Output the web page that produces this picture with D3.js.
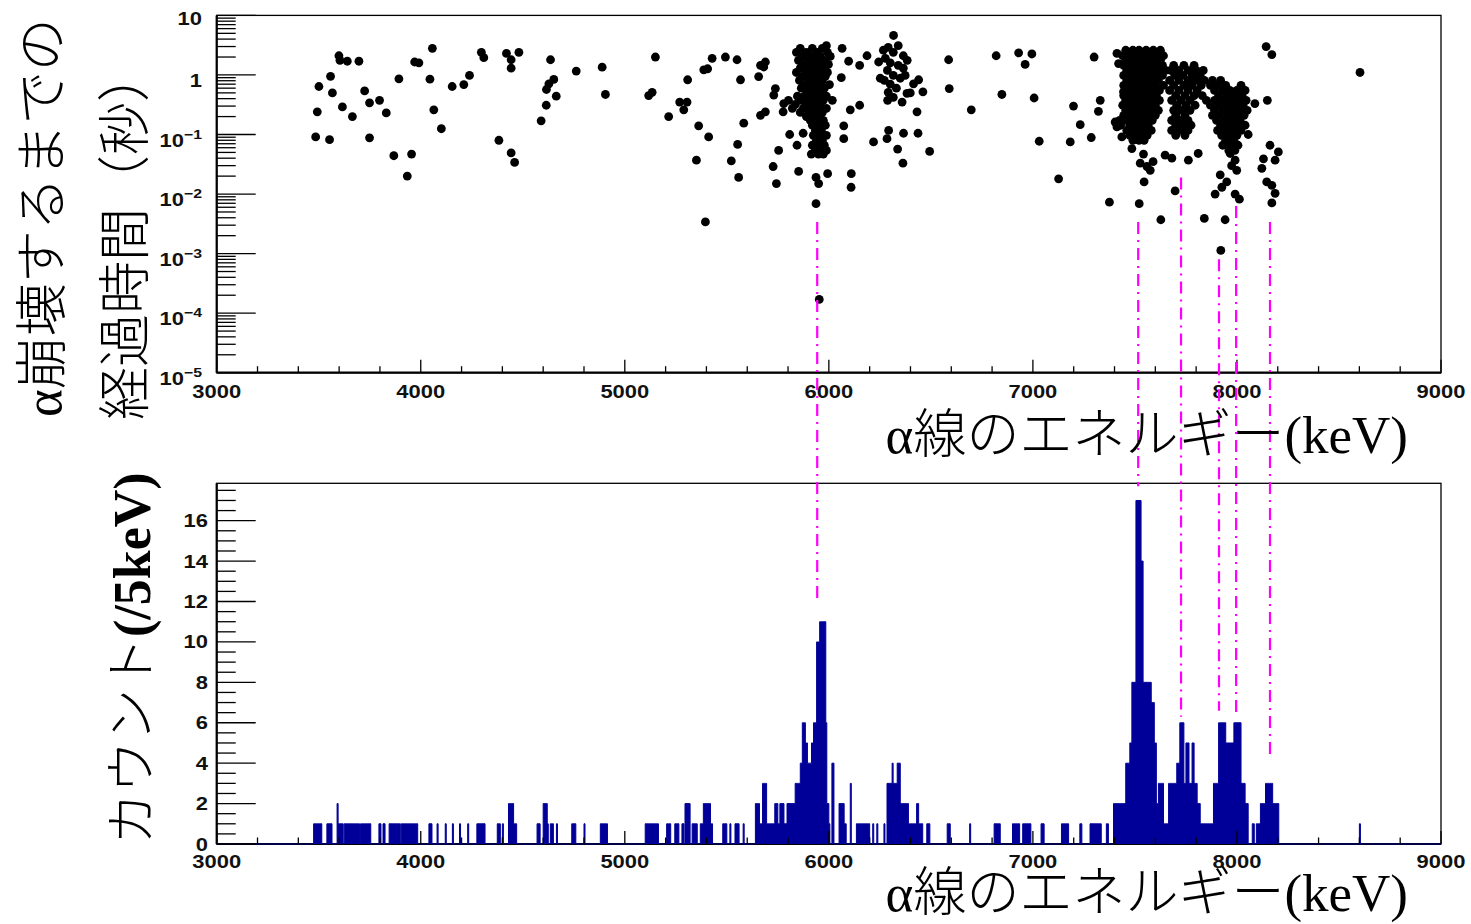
<!DOCTYPE html>
<html><head><meta charset="utf-8">
<script src="https://cdn.jsdelivr.net/npm/d3@7"></script>
<style>html,body{margin:0;padding:0;background:#fff;} svg{display:block}</style>
</head><body>
<svg id="chart" width="1471" height="924"></svg>
<script>
// ---------------- data ----------------
const xTickValues = [3000, 4000, 5000, 6000, 7000, 8000, 9000];
const timeTickPowers = [1, 0, -1, -2, -3, -4, -5];
const countTickValues = [0, 2, 4, 6, 8, 10, 12, 14, 16];

// isolated decay events: [alpha energy (keV), elapsed time (s)]
const scatterPoints = [
 [3599,2.1],[3604,1.76],[3640,1.7],[3697,1.7],[3558,0.95],[3501,0.64],[3567,0.5],[3493,0.24],[3616,0.29],[3665,0.2],
 [3725,0.54],[3749,0.34],[3798,0.375],[3831,0.23],[3485,0.091],[3553,0.082],[3749,0.088],[3868,0.044],[3955,0.047],[3934,0.02],
 [3893,0.86],[3970,1.65],[3991,1.6],[4057,2.8],[4045,0.85],[4064,0.26],[4101,0.125],[4154,0.64],[4211,0.69],[4239,0.98],
 [4297,2.4],[4309,1.95],[4420,2.3],[4443,1.8],[4481,2.4],[4443,1.3],[4383,0.08],[4443,0.049],[4460,0.034],[4636,1.8],
 [4652,0.84],[4628,0.71],[4616,0.57],[4664,0.44],[4615,0.31],[4590,0.17],[4762,1.16],[4889,1.35],[4905,0.47],
 [5150,2.0],[5117,0.45],[5134,0.51],[5215,0.2],[5269,0.35],[5305,0.35],[5289,0.26],[5308,0.83],[5387,1.22],[5406,1.27],
 [5428,1.9],[5493,2.0],[5550,1.8],[5362,0.14],[5411,0.091],[5351,0.037],[5395,0.0034],[5522,0.036],[5553,0.068],[5558,0.019],
 [5567,0.83],[5583,0.155],[5656,0.94],[5665,1.45],[5689,1.65],[5681,1.36],[5665,0.21],[5689,0.24],[5727,0.029],[5743,0.015],
 [5754,0.054],[5730,0.46],[5738,0.59],[5779,0.33],[5776,0.24],[5808,0.1],[5852,0.024],[5844,0.066],[5874,0.105],[5937,0.019],
 [5950,0.015],[5937,0.0069],[5953,0.00017],[5994,0.022],[5988,3.1],[6065,2.8],[6061,0.9],[6073,0.14],[6073,0.085],[6097,1.7],
 [6105,0.26],[6151,0.31],[6110,0.022],[6109,0.013],[6151,1.45],[6187,2.1],[6244,1.65],[6317,4.6],[6219,0.075],[6288,0.375],
 [6285,0.085],[6293,0.117],[6337,0.057],[6363,0.033],[6366,0.105],[6437,0.105],[6432,0.24],[6494,0.052],[6461,0.52],[6415,0.71],
 [6440,0.83],[6383,0.49],[6399,0.5],[6359,0.35],
 [6267,2.6],[6291,2.9],[6316,2.4],[6340,3.1],[6365,2.1],[6384,1.76],[6277,1.9],[6301,1.6],[6340,1.45],[6365,1.3],
 [6287,1.19],[6316,0.98],[6350,0.88],[6272,0.81],[6301,0.7],[6331,0.6],[6291,0.51],[6316,0.42],[6374,0.98],[6252,0.88],
 [6587,1.8],[6590,0.59],
 [6698,0.26],[6820,2.1],[6848,0.47],[6930,2.35],[6995,2.25],[6962,1.5],[7006,0.41],[7031,0.077],[7126,0.018],[7183,0.075],
 [7199,0.3],[7232,0.146],[7286,0.089],[7300,2.0],[7321,0.245],[7330,0.375],[7375,0.0073],[7412,2.3],[7420,1.55],[7403,0.162],
 [7412,0.134],[7436,0.091],[7444,0.52],[7485,0.058],[7521,0.0069],[7545,0.016],[7542,0.047],[7526,0.033],[7559,0.029],[7589,0.035],
 [7575,0.025],[7627,0.0037],[7697,0.0113],[7648,0.045],[7681,0.04],[7762,0.037],[7810,0.048],
 [7840,0.0039],[7942,0.0037],[7921,0.00113],[7974,0.03],[7999,0.025],[7918,0.021],[7950,0.016],[7893,0.01],[7926,0.013],
 [7991,0.01],[8012,0.0082],[7967,0.048],[7991,0.037],
 [8143,3.0],[8171,2.2],[8149,0.375],[8055,0.1],[8088,0.33],[8162,0.066],[8203,0.051],[8187,0.037],[8130,0.039],[8122,0.027],
 [8146,0.016],[8171,0.014],[8187,0.0103],[8171,0.0071],
 [8603,1.1]
];

// dense groups, read row by row: [elapsed time (s), [energies (keV)]]
const clusterRows = [
 // ~5950 keV group
 [2.8,[5860,5919,5968]],[2.4,[5841,5890,5944,5993]],[2.05,[5870,5914,5958,6007]],[1.76,[5851,5900,5934,5978]],
 [1.5,[5880,5919,5954,5998]],[1.3,[5860,5905,5939,5973]],[1.1,[5841,5890,5929,5958,5993]],[0.95,[5870,5914,5949,5983]],
 [0.81,[5856,5900,5934,5968]],[0.69,[5885,5924,5954,6003]],[0.6,[5865,5909,5944,5978]],[0.51,[5895,5929,5963]],
 [0.44,[5846,5880,5919,5949,5988]],[0.375,[5802,5865,5905,5939,5973,6017]],[0.32,[5836,5890,5924,5958]],
 [0.275,[5821,5875,5914,5949,5988]],[0.235,[5860,5905,5934,5968]],[0.2,[5890,5924,5954]],[0.173,[5909,5939,5973]],
 [0.143,[5919,5949,5983]],[0.117,[5934,5963]],[0.097,[5924,5954,5988]],[0.08,[5939,5968]],[0.066,[5919,5949,5978]],
 [0.054,[5934,5958,5988]],[0.047,[5914,5949,5973]],
 // ~7520 keV group
 [2.6,[7455,7490,7520,7555,7590,7625]],[2.1,[7440,7470,7505,7535,7570,7605,7640]],[1.76,[7455,7490,7520,7555,7590,7625]],
 [1.45,[7445,7475,7505,7535,7570,7600,7635]],[1.19,[7460,7490,7520,7550,7585,7620,7650]],[0.98,[7445,7475,7505,7535,7565,7600,7635]],
 [0.81,[7460,7490,7520,7550,7580,7615]],[0.67,[7445,7475,7505,7535,7565,7600,7640]],[0.55,[7460,7490,7520,7550,7585,7620]],
 [0.45,[7445,7475,7505,7535,7570,7605]],[0.375,[7455,7490,7520,7550,7585,7620]],[0.31,[7440,7470,7505,7535,7565,7600]],
 [0.255,[7455,7490,7520,7550,7585,7615]],[0.21,[7445,7475,7505,7535,7565,7600]],[0.173,[7425,7460,7490,7520,7550,7585]],
 [0.143,[7430,7475,7505,7535,7565]],[0.117,[7460,7490,7520,7550,7580]],[0.097,[7475,7505,7535,7560]],[0.08,[7490,7520,7545]],
 // ~7750 keV group
 [1.45,[7690,7740,7790]],[1.19,[7675,7715,7760,7800,7835]],[0.98,[7695,7735,7780,7820]],[0.81,[7670,7715,7760,7800,7840]],
 [0.67,[7690,7740,7780,7825]],[0.55,[7670,7715,7760,7805]],[0.45,[7700,7745,7790,7830]],[0.375,[7680,7725,7770]],
 [0.31,[7705,7750,7795]],[0.255,[7690,7730,7770]],[0.21,[7700,7745]],[0.173,[7680,7720,7760]],[0.143,[7700,7740,7775]],
 [0.117,[7680,7720,7760]],[0.097,[7700,7745]],
 // ~7950 keV group
 [0.81,[7880,7920]],[0.67,[7870,7905,7945,8020]],[0.55,[7890,7930,7965,8000,8040]],[0.45,[7910,7950,7985,8025]],
 [0.375,[7850,7890,7930,7965,8005,8045]],[0.31,[7870,7910,7950,7990,8030]],[0.255,[7890,7930,7970,8010,8050]],
 [0.21,[7880,7915,7955,7995,8035]],[0.173,[7900,7940,7975,8015]],[0.143,[7920,7960,8000,8040]],[0.117,[7905,7940,7980,8020]],
 [0.097,[7925,7960,8000]],[0.08,[7945,7985]],[0.066,[7930,7970,8005]],[0.054,[7960,7990]]
];

// histogram (5 keV bins), run-length: [first bin low edge, end edge, count per bin]
const histSegments = [
 [3475,3515,1],[3540,3565,1],[3590,3595,2],[3595,3620,1],[3625,3700,1],[3705,3755,1],[3795,3805,1],[3815,3825,1],
 [3845,3900,1],[3905,3985,1],[4040,4055,1],[4080,4085,1],[4120,4125,1],[4155,4160,1],[4190,4195,1],[4230,4235,1],
 [4275,4315,1],[4375,4390,1],[4400,4405,1],[4430,4455,2],[4455,4470,1],[4570,4585,1],[4600,4620,2],[4620,4625,1],
 [4635,4650,1],[4665,4670,1],[4740,4760,1],[4800,4805,1],[4880,4915,1],[5100,5165,1],[5205,5225,1],[5245,5265,1],
 [5280,5290,1],[5295,5320,2],[5330,5355,1],
 [5370,5385,1],[5385,5420,2],[5420,5430,1],[5480,5500,1],[5515,5520,1],[5540,5560,1],[5580,5585,1],[5640,5660,2],
 [5660,5675,1],[5675,5695,3],[5695,5735,1],[5735,5750,2],[5750,5760,1],[5760,5780,2],[5780,5795,1],[5795,5835,2],
 [5835,5860,3],[5860,5870,4],[5870,5885,6],[5885,5895,5],[5895,5915,4],[5915,5925,5],[5925,5940,6],[5940,5955,10],
 [5955,5985,11],[5985,5990,6],[5990,6000,2],[6000,6005,1],[6015,6025,4],[6050,6075,2],[6075,6085,1],[6105,6110,3],
 [6135,6200,1],[6215,6220,1],[6235,6240,1],[6270,6275,1],[6285,6310,3],[6310,6315,4],[6315,6335,3],[6335,6350,4],
 [6350,6390,2],[6390,6430,1],[6430,6440,2],[6440,6460,1],[6480,6495,1],[6580,6595,1],[6690,6695,1],
 [6810,6840,1],[6900,6935,1],[6950,6990,1],[7040,7055,1],[7140,7175,1],[7230,7240,1],[7280,7335,1],[7360,7370,1],
 [7395,7455,2],[7455,7475,4],[7475,7485,5],[7485,7505,8],[7505,7530,17],[7530,7540,14],[7540,7580,8],[7580,7595,7],
 [7595,7605,5],[7605,7615,2],[7615,7640,3],[7640,7665,1],[7665,7705,3],[7705,7720,4],[7720,7740,6],[7740,7750,3],
 [7750,7765,5],[7765,7780,3],[7780,7790,5],[7790,7805,3],[7805,7820,2],[7820,7885,1],[7885,7910,3],[7910,7945,6],
 [7945,7985,5],[7985,8020,6],[8020,8040,3],[8040,8055,2],[8075,8085,1],[8095,8115,1],[8115,8140,2],[8140,8175,3],
 [8175,8205,2],[8600,8605,1]
];

// guide lines joining the two panels
const markerEnergies = [5943, 7516, 7726, 7912, 7996, 8162];
const markerTopTimes = [0.0034, 0.0034, 0.019, 0.0008, 0.0063, 0.0034];
const markerBottomCounts = [11.9, 17.7, 6.3, 6.6, 6.5, 4.2];

// ---------------- drawing ----------------
const svg = d3.select('#chart');
svg.append('rect').attr('width', 1471).attr('height', 924).attr('fill', '#fff');

const L = 216.7, R = 1441;
const x = d3.scaleLinear().domain([3000, 9000]).range([L, R]);
const yTop = d3.scaleLog().domain([1e-5, 10]).range([372.7, 15.4]);
const yBot = d3.scaleLinear().domain([0, 17.85]).range([844, 483.3]);

const LABEL_FONT = "'Liberation Sans', Arial, sans-serif";
const SX = 1.22;

function label(g, tx, ty, anchor, parts) {
  const t = g.append('text')
    .attr('transform', `translate(${tx},${ty}) scale(${SX},1)`)
    .attr('text-anchor', anchor)
    .attr('font-family', LABEL_FONT)
    .attr('font-weight', 'bold')
    .attr('font-size', 18)
    .attr('fill', '#111');
  parts.forEach(p => {
    const s = t.append('tspan').text(p.t);
    if (p.sup) s.attr('font-size', 13).attr('dy', -8);
  });
  return t;
}

function frame(top, bottom) {
  const g = svg.append('g');
  g.append('rect').attr('x', L).attr('y', top).attr('width', R - L).attr('height', bottom - top)
    .attr('fill', 'none').attr('stroke', '#000').attr('stroke-width', 1.3);
  g.append('line').attr('x1', L).attr('x2', L).attr('y1', top).attr('y2', bottom).attr('stroke', '#000').attr('stroke-width', 2.2);
  g.append('line').attr('x1', L).attr('x2', R).attr('y1', bottom).attr('y2', bottom).attr('stroke', '#000').attr('stroke-width', 2.2);
  return g;
}

function xAxisTicks(g, bottom, labelY) {
  const minor = d3.range(3000, 9001, 200);
  g.selectAll(null).data(minor).enter().append('line')
    .attr('x1', d => x(d)).attr('x2', d => x(d))
    .attr('y1', bottom).attr('y2', d => bottom - (d % 1000 === 0 ? 13 : 6.5))
    .attr('stroke', '#000').attr('stroke-width', 1.3);
  xTickValues.forEach(v => label(g, x(v), labelY, 'middle', [{t: String(v)}]));
}

// ---- top panel ----
const gTop = frame(15.4, 372.7);
xAxisTicks(gTop, 372.7, 398);
const logTicks = yTop.ticks();
gTop.selectAll(null).data(logTicks).enter().append('line')
  .attr('x1', L).attr('y1', d => yTop(d)).attr('y2', d => yTop(d))
  .attr('x2', d => {
    const p = Math.log10(d);
    return L + (Math.abs(p - Math.round(p)) < 1e-9 ? 39 : 19);
  })
  .attr('stroke', '#000').attr('stroke-width', 1.3);
timeTickPowers.forEach(p => {
  const yy = yTop(Math.pow(10, p));
  if (p === 1) label(gTop, 202, yy + 10, 'end', [{t: '10'}]);
  else if (p === 0) label(gTop, 202, yy + 12, 'end', [{t: '1'}]);
  else label(gTop, 202, yy + 12, 'end', [{t: '10'}, {t: '\u2212' + Math.abs(p), sup: true}]);
});

const allPoints = scatterPoints.concat(clusterRows.flatMap(([t, es]) => es.map(e => [e, t])));
gTop.append('g').selectAll('circle').data(allPoints).enter().append('circle')
  .attr('cx', d => x(d[0])).attr('cy', d => yTop(d[1])).attr('r', 4.4).attr('fill', '#000');

// ---- bottom panel ----
const gBot = frame(483.3, 844);
const counts = new Map();
histSegments.forEach(([s, e, c]) => { for (let v = s; v < e; v += 5) counts.set(v, c); });
const binEdges = d3.range(3000, 9000, 5);
const steps = [];
binEdges.forEach(b => { const c = counts.get(b) || 0; steps.push([b, c], [b + 5, c]); });
gBot.append('path').datum(steps)
  .attr('d', d3.area().x(d => x(d[0])).y0(yBot(0)).y1(d => yBot(d[1])))
  .attr('fill', '#000099');
gBot.append('path').datum(steps)
  .attr('d', d3.line().x(d => x(d[0])).y(d => yBot(d[1])))
  .attr('fill', 'none').attr('stroke', '#000099').attr('stroke-width', 1);

xAxisTicks(gBot, 844, 868);
const linTicks = d3.range(0, 17.85, 0.5);
gBot.selectAll(null).data(linTicks).enter().append('line')
  .attr('x1', L).attr('y1', d => yBot(d)).attr('y2', d => yBot(d))
  .attr('x2', d => L + (d % 2 === 0 ? 39 : 19))
  .attr('stroke', '#000').attr('stroke-width', 1.3);
countTickValues.forEach(v => label(gBot, 208, yBot(v) + 6.5, 'end', [{t: String(v)}]));

// ---- guide lines ----
svg.append('g').selectAll('line').data(markerEnergies).enter().append('line')
  .attr('x1', d => x(d)).attr('x2', d => x(d))
  .attr('y1', (d, i) => yTop(markerTopTimes[i]))
  .attr('y2', (d, i) => yBot(markerBottomCounts[i]))
  .attr('stroke', '#ff00ff').attr('stroke-width', 2.2)
  .attr('stroke-dasharray', '12,6,2,6');

// ---- titles ----
const SERIF = "'Liberation Serif', 'Times New Roman', serif";
const CJK = "'Noto Sans CJK JP', sans-serif";
function title(tx, ty, rot, anchor, size, parts) {
  const t = svg.append('text')
    .attr('transform', `translate(${tx},${ty}) rotate(${rot})`)
    .attr('text-anchor', anchor).attr('font-size', size).attr('fill', '#000');
  parts.forEach(p => t.append('tspan').attr('font-family', p.f).attr('font-weight', p.w || 'normal').text(p.t));
}
const xTitle = [{t: 'α', f: SERIF}, {t: '線のエネルギー', f: CJK, w: 300}, {t: '(keV)', f: SERIF}];
title(1408, 453, 0, 'end', 53, xTitle);
title(1408, 911, 0, 'end', 53, xTitle);
title(61, 417, -90, 'start', 53, [{t: 'α', f: SERIF}, {t: '崩壊するまでの', f: CJK, w: 300}]);
title(144, 420, -90, 'start', 53, [{t: '経過時間（秒）', f: CJK, w: 300}]);
title(150, 845, -90, 'start', 52, [{t: 'カウント', f: CJK, w: 300}, {t: '(/5keV)', f: SERIF, w: 'bold'}]);
</script>
</body></html>
